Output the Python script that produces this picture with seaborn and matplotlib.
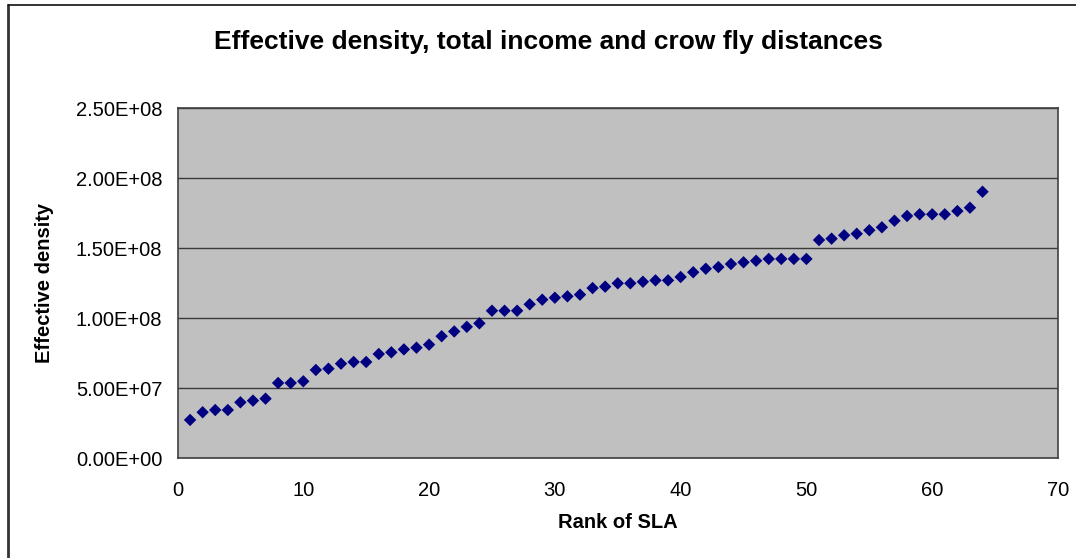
import matplotlib
matplotlib.use("Agg")
import matplotlib.pyplot as plt
from matplotlib.lines import Line2D
from matplotlib.ticker import FuncFormatter, MultipleLocator
import numpy as np
import pandas as pd
import seaborn as sns

# Rank of each SLA and its effective density
rank = list(range(1, 65))
effective_density = [
    2.74e7, 3.29e7, 3.45e7, 3.45e7, 4.00e7, 4.12e7, 4.26e7, 5.38e7,
    5.38e7, 5.50e7, 6.31e7, 6.40e7, 6.76e7, 6.88e7, 6.88e7, 7.45e7,
    7.57e7, 7.78e7, 7.90e7, 8.12e7, 8.72e7, 9.06e7, 9.39e7, 9.64e7,
    1.054e8, 1.054e8, 1.054e8, 1.100e8, 1.133e8, 1.147e8, 1.157e8, 1.169e8,
    1.216e8, 1.226e8, 1.250e8, 1.250e8, 1.261e8, 1.271e8, 1.271e8, 1.295e8,
    1.329e8, 1.354e8, 1.366e8, 1.388e8, 1.400e8, 1.411e8, 1.424e8, 1.424e8,
    1.424e8, 1.424e8, 1.559e8, 1.569e8, 1.593e8, 1.604e8, 1.629e8, 1.650e8,
    1.697e8, 1.731e8, 1.743e8, 1.743e8, 1.743e8, 1.766e8, 1.790e8, 1.904e8,
]

title = "Effective density, total income and crow fly distances"
x_label = "Rank of SLA"
y_label = "Effective density"

df = pd.DataFrame({"rank": rank, "density": effective_density})

sns.set_style("white", {"axes.facecolor": "#C0C0C0"})
plt.rcParams["font.family"] = ["Liberation Sans", "DejaVu Sans"]
plt.rcParams["text.color"] = "black"
plt.rcParams["axes.labelcolor"] = "black"

W, H = 1076, 558
fig = plt.figure(figsize=(W / 100, H / 100), dpi=100)
fig.patch.set_facecolor("white")

left, right, top, bottom = 177.5, 1058, 108.3, 458.3
ax = fig.add_axes([left / W, 1 - bottom / H, (right - left) / W, (bottom - top) / H])
ax.set_facecolor("#C0C0C0")

sns.scatterplot(data=df, x="rank", y="density", ax=ax, marker="D",
                s=40, color="#000080", edgecolor="none", linewidth=0, zorder=3)

ax.set_xlim(0, 70)
ax.set_ylim(0, 2.5e8)
ax.xaxis.set_major_locator(MultipleLocator(10))
ax.yaxis.set_major_locator(MultipleLocator(5e7))

def sci_fmt(v, pos):
    s = f"{v:.2E}"
    mant, exp = s.split("E")
    sign = exp[0]
    return f"{mant}E{sign}{abs(int(exp)):02d}"

ax.yaxis.set_major_formatter(FuncFormatter(sci_fmt))

ax.grid(axis="y", color="#3a3a3a", linewidth=1.0, zorder=1)
ax.set_axisbelow(True)
for side in ["left", "bottom", "right", "top"]:
    ax.spines[side].set_visible(True)
    ax.spines[side].set_color("#404040")
    ax.spines[side].set_linewidth(1.2)

ax.tick_params(axis="both", which="major", direction="out", length=5,
               width=1, color="#404040", labelsize=14.5, labelcolor="black")
ax.tick_params(axis="y", pad=6)
ax.tick_params(axis="x", pad=11)

ax.set_xlabel(x_label, fontsize=14.5, fontweight="bold")
ax.set_ylabel(y_label, fontsize=14.5, fontweight="bold")
ax.xaxis.label.set_va("center")
ax.yaxis.label.set_va("center")
ax.xaxis.set_label_coords(0.5, (bottom - 522) / (bottom - top))
ax.yaxis.set_label_coords((45 - left) / (right - left), 0.5)

fig.text(548 / W, 1 - 42 / H, title, ha="center", va="center",
         fontsize=19, fontweight="bold")

# Frame lines on the left and top edges of the chart area
fig.add_artist(Line2D([8 / W, 8 / W], [1 - 5 / H, 0], transform=fig.transFigure,
                      color="#333333", linewidth=2))
fig.add_artist(Line2D([8 / W, 1], [1 - 5 / H, 1 - 5 / H], transform=fig.transFigure,
                      color="#111111", linewidth=1.2))

fig.savefig("out.png", dpi=100)
